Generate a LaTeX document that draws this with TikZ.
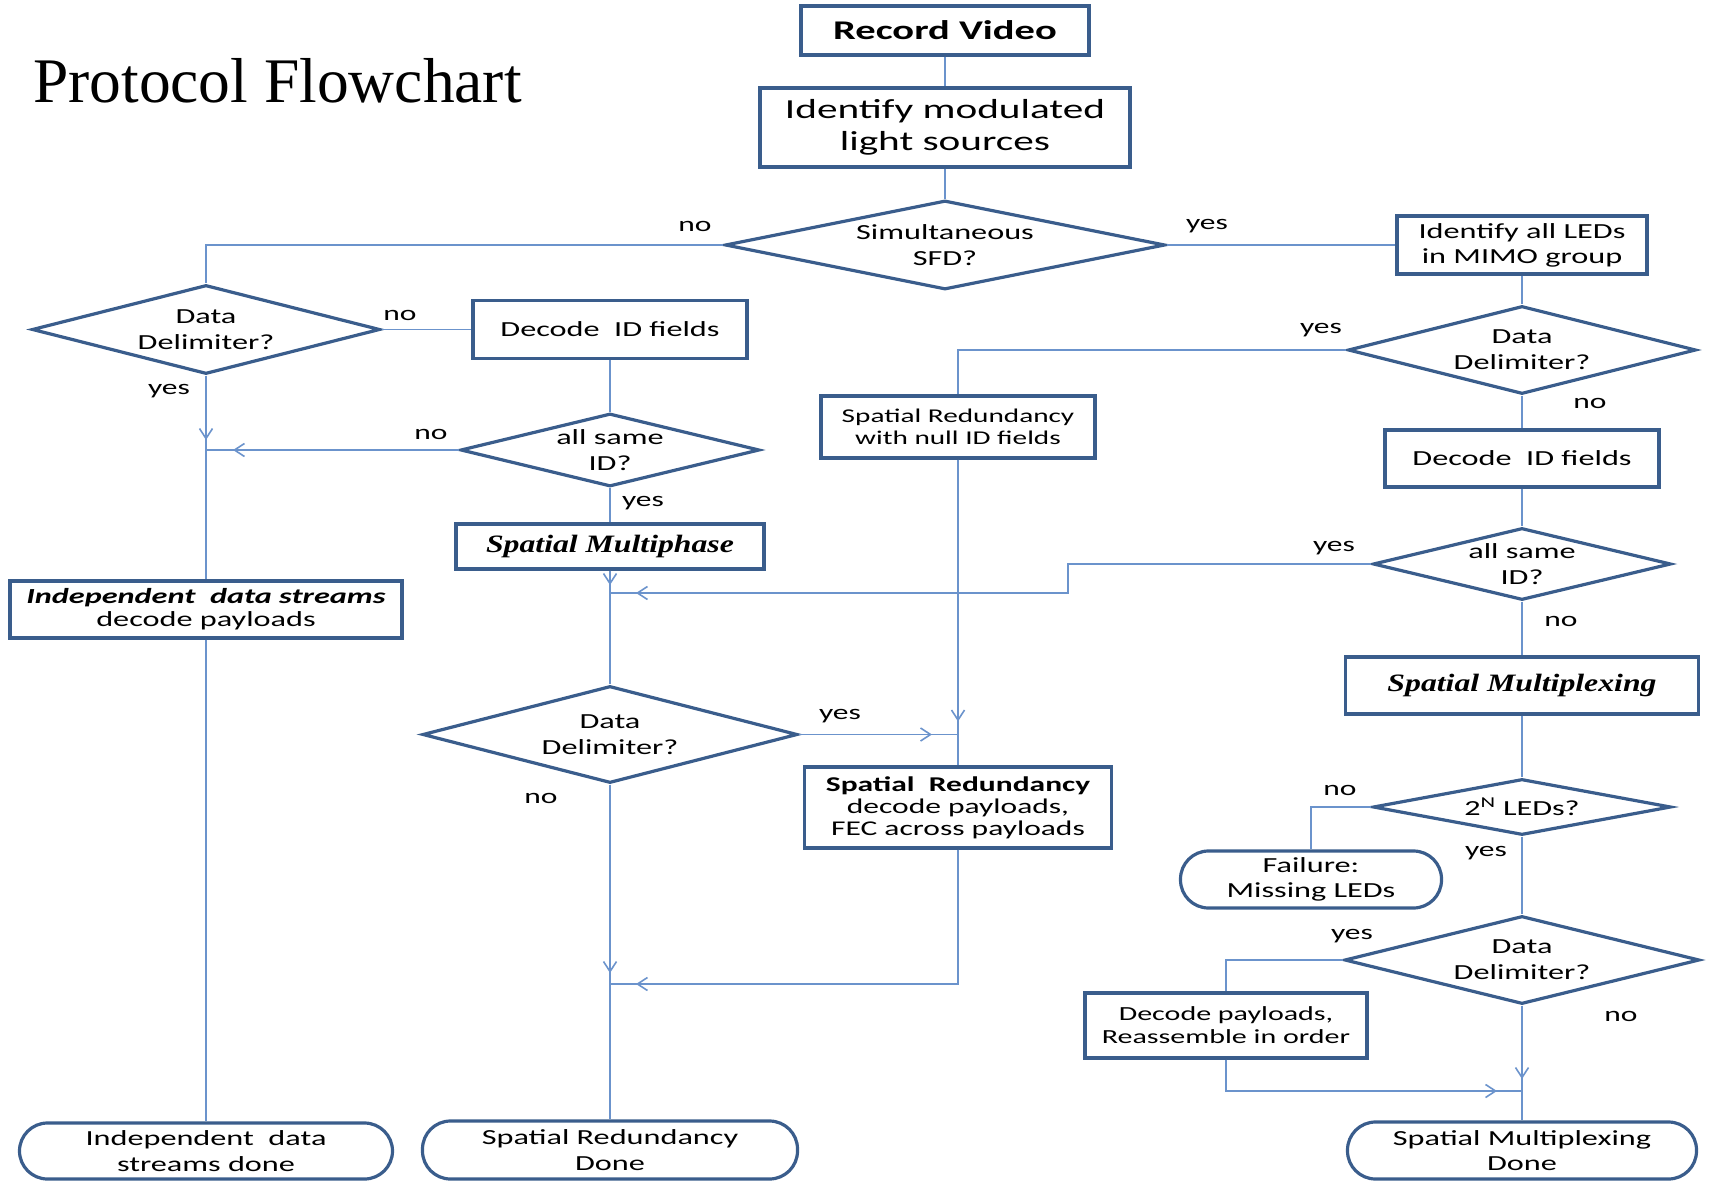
\documentclass[tikz,border=0pt]{standalone}
\usepackage{fontspec}
\setmainfont{Carlito}[FakeStretch=1.5]
\newfontfamily\titlefont{Liberation Serif}
\newfontfamily\serifbi{Liberation Serif}[FakeStretch=1.27]
\usepackage{tikz}
\usetikzlibrary{shapes.geometric, positioning, arrows.meta}
\definecolor{boxblue}{HTML}{3A5D8C}
\definecolor{lineblue}{HTML}{6B93CC}
\tikzstyle{box} = [draw=boxblue, line width=3.2pt, rectangle, inner sep=0pt, align=center, font=\fontsize{21.5pt}{25pt}\selectfont]
\tikzstyle{decision} = [draw=boxblue, line width=3.2pt, diamond, inner sep=-10pt, align=center, font=\fontsize{21.5pt}{26pt}\selectfont]
\tikzstyle{term} = [draw=boxblue, line width=3.2pt, rectangle, rounded corners=28pt, inner sep=0pt, align=center, font=\fontsize{21.5pt}{25.5pt}\selectfont]
\tikzstyle{link} = [draw=lineblue, line width=1.6pt]
\tikzstyle{lbl} = [inner sep=0pt, font=\fontsize{21pt}{24pt}\selectfont]
\tikzset{flow/.style={link, postaction={draw=lineblue, -{Straight Barb[length=10pt,width=13pt]}, shorten >=#1}}}

\begin{document}
\begin{tikzpicture}[x=1pt,y=-1pt,on grid,node distance=100pt]
   	\useasboundingbox (0,0) rectangle (1710,1182);
   	\node[anchor=base west,inner sep=0pt,font=\titlefont\fontsize{63.5pt}{70pt}\selectfont](title) at (33,103){Protocol Flowchart};
   	\node[box,minimum width=288pt,minimum height=49pt,font=\bfseries\fontsize{27pt}{30pt}\selectfont](b_0) at (945,30.5){Record Video};
   	\node[box,minimum width=370pt,minimum height=79pt,font=\fontsize{27.5pt}{32.5pt}\selectfont](b_1)[below=97pt of b_0]{Identify modulated\\light sources};
   	\node[decision,minimum width=440pt,minimum height=89pt,shape aspect=4.94](d_0)[below=117.5pt of b_1]{Simultaneous\\SFD?};
   	\node[box,minimum width=250pt,minimum height=58pt](b_2)[right=577pt of d_0]{Identify all LEDs\\in MIMO group};
   	\node[decision,minimum width=348pt,minimum height=88pt,shape aspect=3.95](d_1)[below=105pt of b_2]{Data\\Delimiter?};
   	\node[box,minimum width=274pt,minimum height=57pt](b_3)[below=108.5pt of d_1]{Decode\ \ ID fields};
   	\node[decision,minimum width=298pt,minimum height=72pt,shape aspect=4.14](d_2)[below=105.5pt of b_3]{all same\\ID?};
   	\node[box,minimum width=353pt,minimum height=57pt,font=\serifbi\bfseries\itshape\fontsize{25pt}{28pt}\selectfont](b_4)[below=121.5pt of d_2]{Spatial Multiplexing};
   	\node[decision,minimum width=298pt,minimum height=56pt,shape aspect=5.3](d_3)[below=121.5pt of b_4]{2\textsuperscript{N} LEDs?};
   	\node[term,minimum width=261pt,minimum height=57pt](t_0)[below left=72.5pt and 211pt of d_3]{Failure:\\Missing LEDs};
   	\node[decision,minimum width=355pt,minimum height=88pt,shape aspect=4.03](d_4)[below=153pt of d_3]{Data\\Delimiter?};
   	\node[box,minimum width=282pt,minimum height=65pt,font=\fontsize{20pt}{23pt}\selectfont](b_5)[below left=65.5pt and 296pt of d_4]{Decode payloads,\\Reassemble in order};
   	\node[term,minimum width=349pt,minimum height=57pt](t_1)[below=190.5pt of d_4]{Spatial Multiplexing\\Done};
   	\node[box,minimum width=274pt,minimum height=62pt,font=\fontsize{19.5pt}{22pt}\selectfont](b_6)[below left=77pt and 564pt of d_1]{Spatial Redundancy\\with null ID fields};
   	\node[box,minimum width=307pt,minimum height=81pt,font=\fontsize{21pt}{22pt}\selectfont](b_7)[below=380.5pt of b_6]{\textbf{Spatial\ \ Redundancy}\\decode payloads,\\FEC across payloads};
   	\node[decision,minimum width=348pt,minimum height=89pt,shape aspect=3.91](d_5)[below left=84.5pt and 739pt of d_0]{Data\\Delimiter?};
   	\node[box,minimum width=274pt,minimum height=58pt](b_8)[right=404pt of d_5]{Decode\ \ ID fields};
   	\node[decision,minimum width=299pt,minimum height=73pt,shape aspect=4.1](d_6)[below=120.5pt of b_8]{all same\\ID?};
   	\node[box,minimum width=308pt,minimum height=45pt,font=\serifbi\bfseries\itshape\fontsize{25pt}{28pt}\selectfont](b_9)[below=96.5pt of d_6]{Spatial Multiphase};
   	\node[decision,minimum width=375pt,minimum height=97pt,shape aspect=3.87](d_7)[below=188pt of b_9]{Data\\Delimiter?};
   	\node[term,minimum width=375pt,minimum height=58pt](t_2)[below=415.5pt of d_7]{Spatial Redundancy\\Done};
   	\node[box,minimum width=392pt,minimum height=57pt,font=\fontsize{21.5pt}{23pt}\selectfont](b_10)[below=280pt of d_5]{\textbf{\textit{Independent\ \ data streams}}\\decode payloads};
   	\node[term,minimum width=373pt,minimum height=56pt](t_3)[below=541.5pt of b_10]{Independent\ \ data\\streams done};
   	\coordinate (j_0) at (d_5 |- d_6);
   	\coordinate (j_1) at (610,593);
   	\coordinate (j_2) at (1068,593);
   	\coordinate (j_3) at (b_6 |- d_7);
   	\coordinate (j_4) at (610,984);
   	\coordinate (j_5) at (1522,1091);
    \path[link]
    (b_0) edge (b_1)
    (b_1) edge (d_0)
    (d_0.east) edge (b_2.west)
    (b_2) edge (d_1)
    (d_1) edge (b_3)
    (b_3) edge (d_2)
    (d_2) edge (b_4)
    (b_4) edge (d_3)
    (d_3) edge (d_4)
    (d_5.east) edge (b_8.west)
    (b_8) edge (d_6)
    (d_6) edge (b_9)
    (j_1) edge (d_7)
    (j_0) edge (b_10)
    (b_10) edge (t_3)
    (j_3) edge (b_7)
    (j_4) edge (t_2)
    (j_5) edge (t_1);
    \draw[link] (d_0.west) -| (d_5.north);
    \draw[link] (d_1.west) -| (b_6.north);
    \draw[link] (d_3.west) -| (t_0.north);
    \draw[link] (d_4.west) -| (b_5.north);
    \draw[flow=10pt] (d_5.south) -- (j_0);
    \draw[flow=27pt] (d_6.west) -- (j_0);
    \draw[flow=8pt] (b_9.south) -- (j_1);
    \draw[flow=26pt] (d_2.west) -| (j_2) -- (j_1);
    \draw[flow=26pt] (d_7.east) -- (j_3);
    \draw[flow=13pt] (b_6.south) -- (j_3);
    \draw[flow=26pt] (b_7.south) |- (j_4);
    \draw[flow=11pt] (d_7.south) -- (j_4);
    \draw[flow=25pt] (b_5.south) |- (j_5);
    \draw[flow=12pt] (d_4.south) -- (j_5);
   	\node[lbl](l_0) at (695,226){no};
   	\node[lbl](l_1) at (1207,226){yes};
   	\node[lbl](l_2) at (400,315){no};
   	\node[lbl](l_3) at (169,391){yes};
   	\node[lbl](l_4) at (431,434){no};
   	\node[lbl](l_5) at (643,503){yes};
   	\node[lbl](l_6) at (1321,330){yes};
   	\node[lbl](l_7) at (1590,403){no};
   	\node[lbl](l_8) at (1334,548){yes};
   	\node[lbl](l_9) at (1561,621){no};
   	\node[lbl](l_10) at (840,716){yes};
   	\node[lbl](l_11) at (541,798){no};
   	\node[lbl](l_12) at (1340,790){no};
   	\node[lbl](l_13) at (1486,853){yes};
   	\node[lbl](l_14) at (1352,936){yes};
   	\node[lbl](l_15) at (1621,1016){no};
\end{tikzpicture}
\end{document}
